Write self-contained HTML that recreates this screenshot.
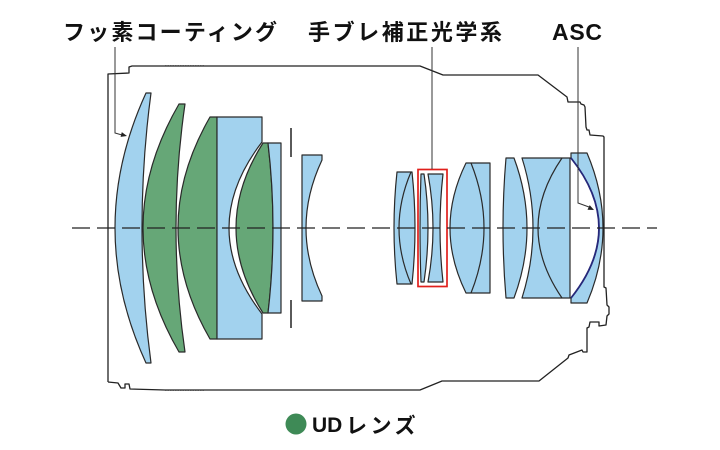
<!DOCTYPE html>
<html><head><meta charset="utf-8"><style>
html,body{margin:0;padding:0;background:#fff;}
svg{display:block;}
</style></head><body>
<svg width="720" height="450" viewBox="0 0 720 450" xmlns="http://www.w3.org/2000/svg">
<rect width="720" height="450" fill="#fff"/>
<g stroke="#2a2a2a" stroke-width="1.2" stroke-linejoin="round">
  <path d="M146,93 L151,93 Q133,228 151,363 L146,363 Q84,228 146,93 Z" fill="#a2d2ee"/>
  <path d="M179,104 L185,104 Q167,228 185,352 L179,352 Q107,228 179,104 Z" fill="#66a777"/>
  <path d="M210,117 L217,117 L217,339 L210,339 Q146,228 210,117 Z" fill="#66a777"/>
  <path d="M217,117 L262,117 L262,142 Q196,228 262,314 L262,339 L217,339 Z" fill="#a2d2ee"/>
  <path d="M263,143 L268,143 Q278,228 268,313 L263,313 Q209,228 263,143 Z" fill="#66a777"/>
  <path d="M268,143 L281,143 L281,313 L268,313 Q278,228 268,143 Z" fill="#a2d2ee"/>
  <path d="M302,155 L322,155 L322,160 Q290,228 322,296 L322,301 L302,301 Z" fill="#a2d2ee"/>
  <path d="M397,172 L412,172 Q418,228 412,284 L397,284 Q391,228 397,172 Z" fill="#a2d2ee"/>
  <path d="M411,172 Q387,228 411,284" fill="none"/>
  <path d="M421,174 L424,174 Q432,228 424,282 L421,282 Q419,228 421,174 Z" fill="#a2d2ee"/>
  <path d="M428,174 L443,174 Q437,228 443,282 L428,282 Q438,228 428,174 Z" fill="#a2d2ee"/>
  <path d="M466,163 L490,163 L490,293 L466,293 Q434,228 466,163 Z" fill="#a2d2ee"/>
  <path d="M471,163 Q497,228 471,293" fill="none"/>
  <path d="M506,158 L514,158 Q540,228 514,298 L506,298 Q500,228 506,158 Z" fill="#a2d2ee"/>
  <path d="M522,158 L570,158 L570,298 L522,298 Q544,228 522,158 Z" fill="#a2d2ee"/>
  <path d="M562,158 Q514,228 562,298" fill="none"/>
  <path d="M571,153 L587,153 Q619,228 587,303 L571,303 L571,298 Q627,228 571,158 Z" fill="#a2d2ee"/>
</g>
<path d="M571,158 Q627,228 571,298" fill="none" stroke="#26287a" stroke-width="1.8"/>
<g stroke="#222" stroke-width="1.5">
  <line x1="291" y1="128" x2="291" y2="157"/>
  <line x1="291" y1="300" x2="291" y2="328"/>
</g>
<rect x="418" y="169.5" width="29" height="117" fill="none" stroke="#e0201c" stroke-width="1.7"/>
<line x1="72" y1="228" x2="657" y2="228" stroke="#222" stroke-width="1.3" stroke-dasharray="18 7"/>
<path d="M108,382 L108,74 L129,73 L129,67 L132,66 L420,66 L443,75 L538,75 L567,97 L568,102 L580,102 L581,104 L584,105 L585,107 L586,127 L587,130 L589,130 L590,135 L603,136 L604,137 L604,287 L606,288 L607,305 L609,307 L609,314 L607,316 L606,325 L599,326 L599,322 L590,322 L589,327 L587,328 L587,352 L583,352 L582,350 L569,355 L568,358 L539,381 L442,381 L420,390 L165,390 L130,389 L129,384 L125,384 L125,388 L121,388 L118,383 L108,382" fill="none" stroke="#222" stroke-width="1.3" stroke-linejoin="round"/>
<line x1="165" y1="65.5" x2="205" y2="65.5" stroke="#555" stroke-width="1" stroke-dasharray="1.5 1"/>
<line x1="165" y1="390.5" x2="205" y2="390.5" stroke="#555" stroke-width="1" stroke-dasharray="1.5 1"/>
<g stroke="#333" stroke-width="1" fill="none">
  <polyline points="115,47 115,133 122,135"/>
  <line x1="432" y1="47" x2="432" y2="169"/>
  <polyline points="578,47 578,203 589,207"/>
</g>
<polygon points="127,136 120.6,136.9 121.8,132.1" fill="#222"/>
<polygon points="594,210 587.5,209.7 589.7,205.1" fill="#222"/>
<g font-family="'Liberation Sans','Noto Sans CJK JP',sans-serif" font-weight="700" fill="#111">
  <text x="63" y="40" font-size="22" textLength="214" lengthAdjust="spacing">フッ素コーティング</text>
  <text x="308" y="40" font-size="22" textLength="194" lengthAdjust="spacing">手ブレ補正光学系</text>
  <text x="552" y="40" font-size="23" textLength="50" lengthAdjust="spacing">ASC</text>
  <text x="312" y="432" font-size="21">UD</text>
  <text x="346" y="433" font-size="21" letter-spacing="3.5">レンズ</text>
</g>
<circle cx="296" cy="424" r="10.5" fill="#3e8a56"/>
</svg>
</body></html>
